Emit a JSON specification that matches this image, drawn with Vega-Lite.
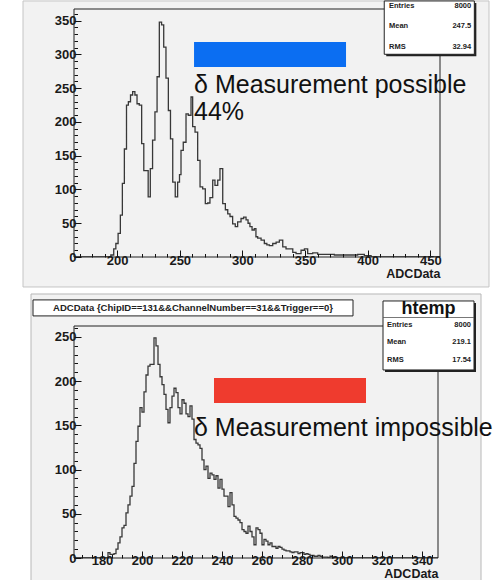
{
  "$schema": "https://vega.github.io/schema/vega-lite/v6.json",
  "background": "white",
  "padding": {"left": 22, "top": 0, "right": 0, "bottom": 2},
  "spacing": 5,
  "config": {
    "view": {"stroke": null, "fill": "#f2f2f2"},
    "axis": {"zindex": 2, "labelFont": "Liberation Sans", "labelFontWeight": "bold", "labelFontSize": 13, "labelColor": "#1a1a1a", "titleFont": "Liberation Sans", "titleFontWeight": "bold", "titleFontSize": 12.5, "titleColor": "#1a1a1a", "tickColor": "#111", "grid": false, "labelOverlap": false, "labelFlush": false},
    "text": {"font": "Liberation Sans"}
  },
  "datasets": {
    "topShapes": [
      {"role": "pad", "x1": 124.9, "x2": 496.8, "y1": -44.4, "y2": 379.3},
      {"role": "frame", "x1": 165.6, "x2": 457.7, "y1": 0, "y2": 367.4},
      {"role": "marker", "x1": 261.4, "x2": 382.7, "y1": 281.5, "y2": 318.5},
      {"role": "shadow", "x1": 414.8, "x2": 486.7, "y1": 297.3, "y2": 376.3},
      {"role": "box", "x1": 413.2, "x2": 485.1, "y1": 300.3, "y2": 379.3}
    ],
    "topStats": [
      {"label": "Entries", "value": "8000", "xl": 417, "xr": 482.6, "y": 371.9},
      {"label": "Mean", "value": "247.5", "xl": 417, "xr": 482.6, "y": 342.2},
      {"label": "RMS", "value": "32.94", "xl": 417, "xr": 482.6, "y": 311.1}
    ],
    "topText": [
      {"x": 261.4, "y": 243.4, "label": "δ Measurement possible"},
      {"x": 261.4, "y": 203, "label": "44%"}
    ],
    "topHist": [
      {"x": 165.6, "n": 0}, {"x": 195.0, "n": 3}, {"x": 197.3, "n": 12}, {"x": 199.0, "n": 20},
      {"x": 200.8, "n": 35}, {"x": 202.6, "n": 62}, {"x": 204.2, "n": 109}, {"x": 205.8, "n": 160},
      {"x": 207.5, "n": 225}, {"x": 209.0, "n": 230}, {"x": 210.7, "n": 240}, {"x": 212.4, "n": 245},
      {"x": 214.2, "n": 240}, {"x": 215.9, "n": 227}, {"x": 217.7, "n": 225}, {"x": 219.6, "n": 168},
      {"x": 221.3, "n": 128}, {"x": 223.1, "n": 128}, {"x": 224.8, "n": 89}, {"x": 226.5, "n": 131},
      {"x": 228.3, "n": 173}, {"x": 230.2, "n": 215}, {"x": 231.9, "n": 267}, {"x": 233.7, "n": 348},
      {"x": 235.5, "n": 344}, {"x": 237.2, "n": 311}, {"x": 239.0, "n": 265}, {"x": 240.9, "n": 217},
      {"x": 242.6, "n": 175}, {"x": 244.4, "n": 111}, {"x": 246.4, "n": 89}, {"x": 248.3, "n": 111},
      {"x": 249.8, "n": 122}, {"x": 251.0, "n": 158}, {"x": 252.8, "n": 170}, {"x": 255.0, "n": 212},
      {"x": 256.8, "n": 210}, {"x": 259.0, "n": 237}, {"x": 260.3, "n": 193}, {"x": 262.2, "n": 185},
      {"x": 264.3, "n": 143}, {"x": 266.2, "n": 104}, {"x": 268.3, "n": 101}, {"x": 270.4, "n": 79},
      {"x": 272.3, "n": 80}, {"x": 274.1, "n": 88}, {"x": 276.3, "n": 114}, {"x": 278.1, "n": 106},
      {"x": 280.3, "n": 114}, {"x": 282.1, "n": 131}, {"x": 284.3, "n": 79}, {"x": 286.4, "n": 70},
      {"x": 288.3, "n": 64}, {"x": 290.1, "n": 60}, {"x": 292.2, "n": 49}, {"x": 294.3, "n": 45},
      {"x": 296.2, "n": 52}, {"x": 298.9, "n": 57}, {"x": 301.0, "n": 59}, {"x": 302.9, "n": 55},
      {"x": 304.5, "n": 50}, {"x": 306.0, "n": 45}, {"x": 307.7, "n": 40}, {"x": 309.5, "n": 42},
      {"x": 310.8, "n": 30}, {"x": 312.2, "n": 28}, {"x": 314.9, "n": 25}, {"x": 317.5, "n": 20},
      {"x": 319.5, "n": 18}, {"x": 321.5, "n": 17}, {"x": 324.2, "n": 20}, {"x": 326.9, "n": 22},
      {"x": 329.5, "n": 25}, {"x": 332.2, "n": 15}, {"x": 334.8, "n": 12}, {"x": 337.5, "n": 12},
      {"x": 340.2, "n": 7}, {"x": 342.8, "n": 5}, {"x": 346.8, "n": 10}, {"x": 349.5, "n": 12},
      {"x": 352.1, "n": 5}, {"x": 356.1, "n": 6}, {"x": 360.1, "n": 4}, {"x": 365.4, "n": 4},
      {"x": 373.4, "n": 3}, {"x": 386.7, "n": 3}, {"x": 392.0, "n": 4}, {"x": 397.3, "n": 2},
      {"x": 402.7, "n": 0}, {"x": 457.7, "n": 0}
    ],
    "botShapes": [
      {"role": "pad", "x1": 144.5, "x2": 369.5, "y1": -26, "y2": 298.6},
      {"role": "frame", "x1": 166, "x2": 348, "y1": 0, "y2": 262.4},
      {"role": "titlebox", "x1": 145.5, "x2": 305.5, "y1": 273.8, "y2": 291.9},
      {"role": "marker", "x1": 236, "x2": 312, "y1": 175.3, "y2": 203.6},
      {"role": "shadow", "x1": 321.5, "x2": 367, "y1": 210.4, "y2": 288.4},
      {"role": "box", "x1": 320.5, "x2": 366, "y1": 212.7, "y2": 290.7},
      {"role": "sep", "x1": 320.5, "x2": 366, "y1": 272, "y2": 272}
    ],
    "botStats": [
      {"label": "Entries", "value": "8000", "xl": 322.5, "xr": 364.5, "y": 263.6},
      {"label": "Mean", "value": "219.1", "xl": 322.5, "xr": 364.5, "y": 244.3},
      {"label": "RMS", "value": "17.54", "xl": 322.5, "xr": 364.5, "y": 224}
    ],
    "botText": [
      {"x": 343.25, "y": 282, "label": "htemp", "kind": "statTitle"},
      {"x": 225.5, "y": 282.8, "label": "ADCData {ChipID==131&&ChannelNumber==31&&Trigger==0}", "kind": "title"},
      {"x": 226, "y": 138, "label": "δ Measurement impossible", "kind": "note"}
    ],
    "botHist": [
      {"x": 166, "n": 0}, {"x": 183, "n": 6}, {"x": 184, "n": 4}, {"x": 185, "n": 4}, {"x": 186, "n": 5},
      {"x": 187, "n": 10}, {"x": 188, "n": 17}, {"x": 189, "n": 24}, {"x": 190, "n": 34}, {"x": 191, "n": 37},
      {"x": 192, "n": 51}, {"x": 193, "n": 60}, {"x": 194, "n": 70}, {"x": 195, "n": 81}, {"x": 196, "n": 107},
      {"x": 197, "n": 132}, {"x": 198, "n": 149}, {"x": 199, "n": 170}, {"x": 200, "n": 165}, {"x": 201, "n": 188},
      {"x": 202, "n": 207}, {"x": 203, "n": 217}, {"x": 204, "n": 219}, {"x": 205, "n": 219}, {"x": 206, "n": 249},
      {"x": 207, "n": 240}, {"x": 208, "n": 219}, {"x": 209, "n": 205}, {"x": 210, "n": 196}, {"x": 211, "n": 185},
      {"x": 212, "n": 168}, {"x": 213, "n": 153}, {"x": 214, "n": 170}, {"x": 215, "n": 183}, {"x": 216, "n": 192},
      {"x": 217, "n": 187}, {"x": 218, "n": 170}, {"x": 219, "n": 163}, {"x": 220, "n": 179}, {"x": 221, "n": 175},
      {"x": 222, "n": 163}, {"x": 223, "n": 160}, {"x": 224, "n": 172}, {"x": 225, "n": 157}, {"x": 226, "n": 134},
      {"x": 227, "n": 130}, {"x": 228, "n": 128}, {"x": 229, "n": 124}, {"x": 230, "n": 111}, {"x": 231, "n": 100},
      {"x": 232, "n": 104}, {"x": 233, "n": 90}, {"x": 234, "n": 96}, {"x": 235, "n": 94}, {"x": 236, "n": 89},
      {"x": 237, "n": 93}, {"x": 238, "n": 79}, {"x": 239, "n": 89}, {"x": 240, "n": 78}, {"x": 241, "n": 70},
      {"x": 242, "n": 70}, {"x": 243, "n": 58}, {"x": 244, "n": 74}, {"x": 245, "n": 60}, {"x": 246, "n": 47},
      {"x": 247, "n": 45}, {"x": 248, "n": 43}, {"x": 249, "n": 40}, {"x": 250, "n": 32}, {"x": 251, "n": 30},
      {"x": 252, "n": 28}, {"x": 253, "n": 36}, {"x": 254, "n": 30}, {"x": 255, "n": 24}, {"x": 256, "n": 15},
      {"x": 257, "n": 34}, {"x": 258, "n": 32}, {"x": 259, "n": 28}, {"x": 260, "n": 15}, {"x": 261, "n": 21},
      {"x": 262, "n": 19}, {"x": 263, "n": 15}, {"x": 264, "n": 17}, {"x": 265, "n": 13}, {"x": 266, "n": 13},
      {"x": 267, "n": 11}, {"x": 268, "n": 13}, {"x": 269, "n": 12}, {"x": 270, "n": 10}, {"x": 271, "n": 9},
      {"x": 272, "n": 8}, {"x": 273, "n": 8}, {"x": 274, "n": 7}, {"x": 275, "n": 6}, {"x": 276, "n": 7},
      {"x": 277, "n": 7}, {"x": 278, "n": 5}, {"x": 279, "n": 6}, {"x": 280, "n": 6}, {"x": 281, "n": 4},
      {"x": 282, "n": 5}, {"x": 283, "n": 4}, {"x": 284, "n": 3}, {"x": 285, "n": 3}, {"x": 286, "n": 2},
      {"x": 287, "n": 2}, {"x": 288, "n": 3}, {"x": 289, "n": 2}, {"x": 290, "n": 1}, {"x": 291, "n": 1},
      {"x": 292, "n": 1}, {"x": 293, "n": 0}, {"x": 294, "n": 2}, {"x": 295, "n": 1}, {"x": 296, "n": 0},
      {"x": 348, "n": 0}
    ]
  },
  "vconcat": [
    {
      "width": 366,
      "height": 248,
      "resolve": {"axis": {"x": "independent", "y": "independent"}},
      "layer": [
        {
          "data": {"name": "topShapes"},
          "transform": [{"filter": "datum.role === 'pad'"}],
          "mark": {"type": "rect", "fill": "#f2f2f2", "stroke": "#c4c4c4", "strokeWidth": 1},
          "encoding": {
            "x": {"field": "x1", "type": "quantitative", "scale": {"domain": [165.6, 457.7], "nice": false, "zero": false},
              "axis": {"zindex": 2, "values": [200, 250, 300, 350, 400, 450], "title": "ADCData", "titleAnchor": "end", "titlePadding": 0, "tickSize": -7, "labelPadding": 4, "domain": false, "grid": false}},
            "x2": {"field": "x2"},
            "y": {"field": "y1", "type": "quantitative", "scale": {"domain": [0, 367.4], "nice": false, "zero": false},
              "axis": {"zindex": 2, "values": [0, 50, 100, 150, 200, 250, 300, 350], "title": null, "tickSize": -7, "labelPadding": 5, "domain": false, "grid": false}},
            "y2": {"field": "y2"}
          }
        },
        {
          "data": {"name": "topShapes"},
          "transform": [{"filter": "datum.role === 'frame'"}],
          "mark": {"type": "point", "opacity": 0},
          "encoding": {
            "x": {"field": "x1", "type": "quantitative",
              "axis": {"zindex": 2, "orient": "bottom", "values": [170, 180, 190, 210, 220, 230, 240, 260, 270, 280, 290, 310, 320, 330, 340, 360, 370, 380, 390, 410, 420, 430, 440], "labels": false, "domain": false, "grid": false, "tickSize": -3.5, "title": null}},
            "y": {"field": "y1", "type": "quantitative",
              "axis": {"zindex": 2, "orient": "left", "values": [10, 20, 30, 40, 60, 70, 80, 90, 110, 120, 130, 140, 160, 170, 180, 190, 210, 220, 230, 240, 260, 270, 280, 290, 310, 320, 330, 340, 360], "labels": false, "domain": false, "grid": false, "tickSize": -3.5, "title": null}}
          }
        },
        {
          "data": {"name": "topHist"},
          "mark": {"type": "line", "interpolate": "step-after", "color": "#383838", "strokeWidth": 1.3, "clip": true},
          "encoding": {
            "x": {"field": "x", "type": "quantitative", "axis": null},
            "y": {"field": "n", "type": "quantitative", "axis": null}
          }
        },
        {
          "data": {"name": "topShapes"},
          "transform": [{"filter": "datum.role === 'frame'"}],
          "mark": {"type": "rect", "fillOpacity": 0, "stroke": "#222", "strokeWidth": 1},
          "encoding": {
            "x": {"field": "x1", "type": "quantitative", "axis": null}, "x2": {"field": "x2"},
            "y": {"field": "y1", "type": "quantitative", "axis": null}, "y2": {"field": "y2"}
          }
        },
        {
          "data": {"name": "topShapes"},
          "transform": [{"filter": "datum.role === 'marker'"}],
          "mark": {"type": "rect", "fill": "#0b6ef2"},
          "encoding": {
            "x": {"field": "x1", "type": "quantitative", "axis": null}, "x2": {"field": "x2"},
            "y": {"field": "y1", "type": "quantitative", "axis": null}, "y2": {"field": "y2"}
          }
        },
        {
          "data": {"name": "topText"},
          "mark": {"type": "text", "align": "left", "baseline": "alphabetic", "fontSize": 25, "color": "#111"},
          "encoding": {
            "x": {"field": "x", "type": "quantitative", "axis": null},
            "y": {"field": "y", "type": "quantitative", "axis": null},
            "text": {"field": "label"}
          }
        },
        {
          "data": {"name": "topShapes"},
          "transform": [{"filter": "datum.role === 'shadow'"}],
          "mark": {"type": "rect", "fill": "#222"},
          "encoding": {
            "x": {"field": "x1", "type": "quantitative", "axis": null}, "x2": {"field": "x2"},
            "y": {"field": "y1", "type": "quantitative", "axis": null}, "y2": {"field": "y2"}
          }
        },
        {
          "data": {"name": "topShapes"},
          "transform": [{"filter": "datum.role === 'box'"}],
          "mark": {"type": "rect", "fill": "white", "stroke": "#222", "strokeWidth": 1},
          "encoding": {
            "x": {"field": "x1", "type": "quantitative", "axis": null}, "x2": {"field": "x2"},
            "y": {"field": "y1", "type": "quantitative", "axis": null}, "y2": {"field": "y2"}
          }
        },
        {
          "data": {"name": "topStats"},
          "mark": {"type": "text", "align": "left", "baseline": "middle", "fontSize": 7.5, "fontWeight": "bold", "color": "#222"},
          "encoding": {
            "x": {"field": "xl", "type": "quantitative", "axis": null},
            "y": {"field": "y", "type": "quantitative", "axis": null},
            "text": {"field": "label"}
          }
        },
        {
          "data": {"name": "topStats"},
          "mark": {"type": "text", "align": "right", "baseline": "middle", "fontSize": 7.5, "fontWeight": "bold", "color": "#222"},
          "encoding": {
            "x": {"field": "xr", "type": "quantitative", "axis": null},
            "y": {"field": "y", "type": "quantitative", "axis": null},
            "text": {"field": "value"}
          }
        }
      ]
    },
    {
      "width": 364,
      "height": 232,
      "resolve": {"axis": {"x": "independent", "y": "independent"}},
      "layer": [
        {
          "data": {"name": "botShapes"},
          "transform": [{"filter": "datum.role === 'pad'"}],
          "mark": {"type": "rect", "fill": "#f2f2f2", "stroke": "#b8b8b8", "strokeWidth": 1},
          "encoding": {
            "x": {"field": "x1", "type": "quantitative", "scale": {"domain": [166, 348], "nice": false, "zero": false},
              "axis": {"zindex": 2, "values": [180, 200, 220, 240, 260, 280, 300, 320, 340], "title": "ADCData", "titleAnchor": "end", "titlePadding": 0, "tickSize": -7, "labelPadding": 3, "domain": false, "grid": false}},
            "x2": {"field": "x2"},
            "y": {"field": "y1", "type": "quantitative", "scale": {"domain": [0, 262.4], "nice": false, "zero": false},
              "axis": {"zindex": 2, "values": [0, 50, 100, 150, 200, 250], "title": null, "tickSize": -7, "labelPadding": 5, "domain": false, "grid": false}},
            "y2": {"field": "y2"}
          }
        },
        {
          "data": {"name": "botShapes"},
          "transform": [{"filter": "datum.role === 'frame'"}],
          "mark": {"type": "point", "opacity": 0},
          "encoding": {
            "x": {"field": "x1", "type": "quantitative",
              "axis": {"zindex": 2, "orient": "bottom", "values": [170, 175, 185, 190, 195, 205, 210, 215, 225, 230, 235, 245, 250, 255, 265, 270, 275, 285, 290, 295, 305, 310, 315, 325, 330, 335, 345], "labels": false, "domain": false, "grid": false, "tickSize": -3.5, "title": null}},
            "y": {"field": "y1", "type": "quantitative",
              "axis": {"zindex": 2, "orient": "left", "values": [10, 20, 30, 40, 60, 70, 80, 90, 110, 120, 130, 140, 160, 170, 180, 190, 210, 220, 230, 240, 260], "labels": false, "domain": false, "grid": false, "tickSize": -3.5, "title": null}}
          }
        },
        {
          "data": {"name": "botHist"},
          "mark": {"type": "line", "interpolate": "step-after", "color": "#383838", "strokeWidth": 1.3, "clip": true},
          "encoding": {
            "x": {"field": "x", "type": "quantitative", "axis": null},
            "y": {"field": "n", "type": "quantitative", "axis": null}
          }
        },
        {
          "data": {"name": "botShapes"},
          "transform": [{"filter": "datum.role === 'frame'"}],
          "mark": {"type": "rect", "fillOpacity": 0, "stroke": "#222", "strokeWidth": 1},
          "encoding": {
            "x": {"field": "x1", "type": "quantitative", "axis": null}, "x2": {"field": "x2"},
            "y": {"field": "y1", "type": "quantitative", "axis": null}, "y2": {"field": "y2"}
          }
        },
        {
          "data": {"name": "botShapes"},
          "transform": [{"filter": "datum.role === 'marker'"}],
          "mark": {"type": "rect", "fill": "#ef3b2e"},
          "encoding": {
            "x": {"field": "x1", "type": "quantitative", "axis": null}, "x2": {"field": "x2"},
            "y": {"field": "y1", "type": "quantitative", "axis": null}, "y2": {"field": "y2"}
          }
        },
        {
          "data": {"name": "botShapes"},
          "transform": [{"filter": "datum.role === 'titlebox'"}],
          "mark": {"type": "rect", "fill": "white", "stroke": "#222", "strokeWidth": 1},
          "encoding": {
            "x": {"field": "x1", "type": "quantitative", "axis": null}, "x2": {"field": "x2"},
            "y": {"field": "y1", "type": "quantitative", "axis": null}, "y2": {"field": "y2"}
          }
        },
        {
          "data": {"name": "botShapes"},
          "transform": [{"filter": "datum.role === 'shadow'"}],
          "mark": {"type": "rect", "fill": "#222"},
          "encoding": {
            "x": {"field": "x1", "type": "quantitative", "axis": null}, "x2": {"field": "x2"},
            "y": {"field": "y1", "type": "quantitative", "axis": null}, "y2": {"field": "y2"}
          }
        },
        {
          "data": {"name": "botShapes"},
          "transform": [{"filter": "datum.role === 'box'"}],
          "mark": {"type": "rect", "fill": "white", "stroke": "#222", "strokeWidth": 1},
          "encoding": {
            "x": {"field": "x1", "type": "quantitative", "axis": null}, "x2": {"field": "x2"},
            "y": {"field": "y1", "type": "quantitative", "axis": null}, "y2": {"field": "y2"}
          }
        },
        {
          "data": {"name": "botShapes"},
          "transform": [{"filter": "datum.role === 'sep'"}],
          "mark": {"type": "rule", "color": "#555", "strokeWidth": 0.8},
          "encoding": {
            "x": {"field": "x1", "type": "quantitative", "axis": null}, "x2": {"field": "x2"},
            "y": {"field": "y1", "type": "quantitative", "axis": null}
          }
        },
        {
          "data": {"name": "botText"},
          "transform": [{"filter": "datum.kind === 'note'"}],
          "mark": {"type": "text", "align": "left", "baseline": "alphabetic", "fontSize": 25, "color": "#111"},
          "encoding": {
            "x": {"field": "x", "type": "quantitative", "axis": null},
            "y": {"field": "y", "type": "quantitative", "axis": null},
            "text": {"field": "label"}
          }
        },
        {
          "data": {"name": "botText"},
          "transform": [{"filter": "datum.kind === 'title'"}],
          "mark": {"type": "text", "align": "center", "baseline": "middle", "fontSize": 9.5, "fontWeight": "bold", "color": "#222"},
          "encoding": {
            "x": {"field": "x", "type": "quantitative", "axis": null},
            "y": {"field": "y", "type": "quantitative", "axis": null},
            "text": {"field": "label"}
          }
        },
        {
          "data": {"name": "botText"},
          "transform": [{"filter": "datum.kind === 'statTitle'"}],
          "mark": {"type": "text", "align": "center", "baseline": "middle", "fontSize": 18, "fontWeight": "bold", "color": "#111"},
          "encoding": {
            "x": {"field": "x", "type": "quantitative", "axis": null},
            "y": {"field": "y", "type": "quantitative", "axis": null},
            "text": {"field": "label"}
          }
        },
        {
          "data": {"name": "botStats"},
          "mark": {"type": "text", "align": "left", "baseline": "middle", "fontSize": 7.5, "fontWeight": "bold", "color": "#222"},
          "encoding": {
            "x": {"field": "xl", "type": "quantitative", "axis": null},
            "y": {"field": "y", "type": "quantitative", "axis": null},
            "text": {"field": "label"}
          }
        },
        {
          "data": {"name": "botStats"},
          "mark": {"type": "text", "align": "right", "baseline": "middle", "fontSize": 7.5, "fontWeight": "bold", "color": "#222"},
          "encoding": {
            "x": {"field": "xr", "type": "quantitative", "axis": null},
            "y": {"field": "y", "type": "quantitative", "axis": null},
            "text": {"field": "value"}
          }
        }
      ]
    }
  ]
}
